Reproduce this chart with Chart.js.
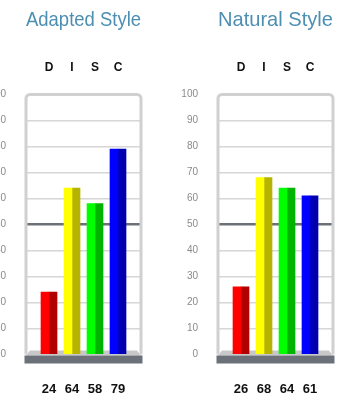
<!DOCTYPE html>
<html>
<head>
<meta charset="utf-8">
<script src="https://cdn.jsdelivr.net/npm/chart.js@4/dist/chart.umd.min.js"></script>
<style>
  html, body { margin: 0; padding: 0; background: #fff; overflow: hidden; }
  body { width: 352px; height: 396px; position: relative; }
  .panel { position: absolute; top: 0; width: 176px; height: 396px; }
  #adaptedWrap { left: -16px; }
  #naturalWrap { left: 176px; }
</style>
</head>
<body>
<div class="panel" id="adaptedWrap"><canvas id="adapted" width="176" height="396"></canvas></div>
<div class="panel" id="naturalWrap"><canvas id="natural" width="176" height="396"></canvas></div>
<script>
// DISC factor names and scores
const factors = ['D', 'I', 'S', 'C'];
const adaptedScores = [24, 64, 58, 79];
const naturalScores = [26, 68, 64, 61];
const yTicks = [0, 10, 20, 30, 40, 50, 60, 70, 80, 90, 100];

// Each bar is split into a bright left half and a shaded right half
const lightColors = ['#ff0000', '#ffff00', '#00ff00', '#0000ff'];
const darkColors  = ['#b00000', '#b6b400', '#00b400', '#0000b0'];

// Blank slots either side keep the bars inset from the frame
const pad = a => [null, ...a, null];
const slotLabels = pad(factors).map(v => v === null ? '' : v);

// Rounded frame, 3D floor and dark base around the plot
const framePlugin = {
  id: 'discFrame',
  beforeDatasetsDraw(chart) {
    const { ctx, chartArea: a } = chart;
    ctx.save();
    // floor
    ctx.fillStyle = '#c8c8c8';
    ctx.beginPath();
    ctx.moveTo(a.left + 4, a.bottom - 4);
    ctx.lineTo(a.right - 4, a.bottom - 4);
    ctx.lineTo(a.right, a.bottom + 1);
    ctx.lineTo(a.left, a.bottom + 1);
    ctx.closePath();
    ctx.fill();
    // frame
    ctx.strokeStyle = '#d0d0d0';
    ctx.lineWidth = 3;
    const r = 4;
    ctx.beginPath();
    ctx.moveTo(a.left, a.bottom);
    ctx.lineTo(a.left, a.top + r);
    ctx.arcTo(a.left, a.top, a.left + r, a.top, r);
    ctx.lineTo(a.right - r, a.top);
    ctx.arcTo(a.right, a.top, a.right, a.top + r, r);
    ctx.lineTo(a.right, a.bottom);
    ctx.stroke();
    ctx.restore();
  },
  afterDatasetsDraw(chart) {
    const { ctx, chartArea: a } = chart;
    ctx.save();
    ctx.fillStyle = '#6b7079';
    ctx.fillRect(a.left - 1.5, a.bottom + 1, a.right - a.left + 3, 8);
    ctx.restore();
  }
};

function makeChart(id, title, scores) {
  const valueLabels = pad(scores).map(v => v === null ? '' : String(v));
  return new Chart(document.getElementById(id), {
    type: 'bar',
    data: {
      labels: slotLabels,
      datasets: [
        { data: pad(scores), backgroundColor: pad(lightColors), barThickness: 8, borderWidth: 0 },
        { data: pad(scores), backgroundColor: pad(darkColors), barThickness: 8, borderWidth: 0 }
      ]
    },
    options: {
      responsive: false,
      animation: false,
      layout: { padding: { left: 0, right: 19, top: 0, bottom: 0 } },
      plugins: {
        legend: { display: false },
        tooltip: { enabled: false },
        title: {
          display: true,
          fullSize: false,
          text: title,
          color: '#4d8fb2',
          font: { family: 'Liberation Sans, Arial, sans-serif', size: 21, weight: 'normal' },
          padding: { top: 8, bottom: 0 }
        }
      },
      scales: {
        x: {
          type: 'category',
          position: 'top',
          offset: false,
          grid: { display: false },
          border: { display: false },
          ticks: {
            autoSkip: false, maxRotation: 0, padding: 12,
            color: '#111',
            font: { family: 'Liberation Sans, Arial, sans-serif', size: 12, weight: 'bold' }
          },
          afterFit(s) { s.height = 61.3; }
        },
        xb: {
          type: 'category',
          position: 'bottom',
          offset: false,
          grid: { display: false },
          border: { display: false },
          ticks: {
            autoSkip: false, maxRotation: 0, padding: 19,
            color: '#111',
            font: { family: 'Liberation Sans, Arial, sans-serif', size: 13, weight: 'bold' },
            callback: (v, i) => valueLabels[i]
          },
          afterFit(s) { s.height = 41.5; }
        },
        y: {
          min: 0, max: 100,
          border: { display: false },
          afterBuildTicks(s) { s.ticks = yTicks.map(v => ({ value: v })); },
          grid: {
            drawTicks: false,
            color: c => (c.tick.value === 50 ? '#6b7079' : (c.tick.value === 0 || c.tick.value === 100) ? 'rgba(0,0,0,0)' : '#d6d6d6'),
            lineWidth: c => (c.tick.value === 50 ? 2.5 : 1.5)
          },
          ticks: {
            padding: 20,
            color: '#8a8a8a',
            font: { family: 'Liberation Sans, Arial, sans-serif', size: 10 }
          },
          afterFit(s) { s.width = 42; }
        }
      }
    },
    plugins: [framePlugin]
  });
}

makeChart('adapted', 'Adapted Style', adaptedScores);
makeChart('natural', 'Natural Style', naturalScores);
</script>
</body>
</html>
